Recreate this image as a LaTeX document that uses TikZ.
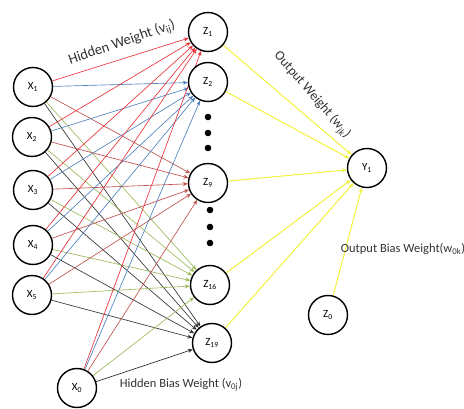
\documentclass[tikz,border=0pt]{standalone}
\usepackage{fontspec}
\setmainfont{Carlito}
\usetikzlibrary{arrows.meta,backgrounds}

\definecolor{hidred}{HTML}{E8323C}
\definecolor{hidblue}{HTML}{4F81BD}
\definecolor{hidbrick}{HTML}{C0504D}
\definecolor{hidgreen}{HTML}{9BBB59}
\definecolor{hidblack}{HTML}{333333}
\definecolor{outyellow}{HTML}{F2F23C}

\begin{document}
\begin{tikzpicture}[x=1pt,y=1pt,every node/.style={font=\fontsize{11}{13}\selectfont},
  unit/.style={circle,draw,line width=1.4pt,minimum size=39pt,inner sep=0pt,fill=white},
  wire/.style={line width=.65pt,-{Stealth[length=5pt,width=4pt]}},
  outwire/.style={outyellow,line width=1pt,-{Stealth[length=5pt,width=4pt]}},
  weightlbl/.style={font=\fontsize{12.5}{14}\selectfont,text=black!80,inner sep=1pt}]
\useasboundingbox (0,0) rectangle (464,408);
% input layer
\node[unit] (x1) at (33,321) {X\textsubscript{1}};
\node[unit] (x2) at (32,271) {X\textsubscript{2}};
\node[unit] (x3) at (33,218) {X\textsubscript{3}};
\node[unit] (x4) at (33,163) {X\textsubscript{4}};
\node[unit] (x5) at (32,113) {X\textsubscript{5}};
\node[unit] (x0) at (77,20) {X\textsubscript{0}};
% hidden layer
\node[unit] (z1) at (208,376) {Z\textsubscript{1}};
\node[unit] (z2) at (208,326) {Z\textsubscript{2}};
\node[unit] (z9) at (208,225) {Z\textsubscript{9}};
\node[unit] (z16) at (210,123) {Z\textsubscript{16}};
\node[unit] (z19) at (212,65) {Z\textsubscript{19}};
% output layer
\node[unit] (y1) at (367,240) {Y\textsubscript{1}};
\node[unit] (z0) at (328,93) {Z\textsubscript{0}};
\begin{scope}[on background layer]
% hidden weights
\foreach \s in {x1,x2,x3,x4,x5,x0}{
  \draw[wire,hidred] (\s) -- (z1);
  \draw[wire,hidblue] (\s) -- (z2);
  \draw[wire,hidbrick] (\s) -- (z9);
  \draw[wire,hidgreen] (\s) -- (z16);
  \draw[wire,hidblack] (\s) -- (z19);
}
% output weights
\foreach \s in {z1,z2,z9,z16,z19,z0}
  \draw[outwire] (\s) -- (y1);
\end{scope}
% ellipsis dots
\foreach \y in {291,275,260}
  \fill (208,\y) circle (3.3pt);
\foreach \y in {198,181,165}
  \fill (210,\y) circle (3.3pt);
% labels
\node[weightlbl,font=\fontsize{14.5}{16}\selectfont,rotate=19] (hwlbl) at (122,365) {Hidden Weight (v\textsubscript{ij})};
\node[weightlbl,font=\fontsize{13.5}{15}\selectfont,rotate=-49] (owlbl) at (312,313) {Output Weight (w\textsubscript{jk})};
\node[weightlbl] (oblbl) at (403,159) {Output Bias Weight(w\textsubscript{0k})};
\node[weightlbl] (hblbl) at (181,23) {Hidden Bias Weight (v\textsubscript{0j})};
\end{tikzpicture}
\end{document}
